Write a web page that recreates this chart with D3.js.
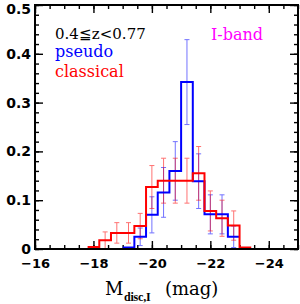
<!DOCTYPE html>
<html><head><meta charset="utf-8">
<script src="https://cdn.jsdelivr.net/npm/d3@7"></script>
<style>body{margin:0;background:#fff}</style></head>
<body><svg id="c" width="300" height="304"></svg>
<script>
const binWidth = 0.4;
const classicalBins = [-17.8,-18.2,-18.6,-19.0,-19.4,-19.8,-20.2,-20.6,-21.0,-21.4,-21.8,-22.2,-22.6,-23.0];
const classicalValues = [0.004,0.018,0.033,0.033,0.047,0.127,0.140,0.140,0.140,0.155,0.078,0.063,0.048,0.003];
const classicalErrors = [0,0.017,0.021,0.021,0.026,0.044,0.046,0.046,0.046,0.055,0.041,0.037,0.030,0];
const pseudoBins = [-19.0,-19.4,-19.8,-20.2,-20.6,-21.0,-21.4,-21.8,-22.2,-22.6];
const pseudoValues = [0.003,0.025,0.070,0.116,0.160,0.342,0.139,0.071,0.071,0.025];
const pseudoErrors = [0,0.018,0.037,0.051,0.060,0.087,0.056,0.040,0.040,0.022];
const xMajorTicks = [-16,-18,-20,-22,-24];
const yMajorTicks = [0,0.1,0.2,0.3,0.4,0.5];
const xMinorTicks = d3.range(-16,-25.01,-0.5);
const yMinorTicks = d3.range(0,0.5001,0.02);

const L=35,R=298,T=5,B=249;
const svg=d3.select("#c");
const x=d3.scaleLinear().domain([-16,-25]).range([L,R]);
const y=d3.scaleLinear().domain([0,0.5]).range([B,T]);

function axis(gen, tr, vals, size, labels, pad){
  const a=gen.tickValues(vals).tickSizeInner(size).tickSizeOuter(0).tickPadding(pad||3);
  if(!labels) a.tickFormat("");
  const g=svg.append("g").attr("transform",tr).call(a);
  g.select(".domain").remove();
  g.selectAll(".tick line").attr("stroke","#000").attr("stroke-width",1.4);
  return g;
}
// minor ticks
axis(d3.axisBottom(x),`translate(0,${B})`,xMinorTicks,-4,false);
axis(d3.axisTop(x),`translate(0,${T})`,xMinorTicks,-4,false);
axis(d3.axisLeft(y),`translate(${L},0)`,yMinorTicks,-4,false);
axis(d3.axisRight(y),`translate(${R},0)`,yMinorTicks,-4,false);
// major ticks
const gx=axis(d3.axisBottom(x),`translate(0,${B})`,xMajorTicks,-8,true,9.5);
gx.selectAll("text").attr("font-family","DejaVu Sans").attr("font-weight","bold").attr("font-size",13).attr("fill","#000");
axis(d3.axisTop(x),`translate(0,${T})`,xMajorTicks,-8,false);
const gy=axis(d3.axisLeft(y),`translate(${L},0)`,yMajorTicks,-8,true,4);
gy.selectAll("text").attr("font-family","DejaVu Sans").attr("font-weight","bold").attr("font-size",14).attr("fill","#000")
  .text(d=>d===0?"0":d3.format(".1f")(d));
gy.selectAll(".tick").filter(d=>d===0.5).select("text").attr("dy","0.6em");
axis(d3.axisRight(y),`translate(${R},0)`,yMajorTicks,-8,false);

function errs(bins,vals,errsArr,color){
  bins.forEach((b,i)=>{
    const e=errsArr[i]; if(!e) return;
    const cx=x(b-binWidth/2), y1=y(vals[i]+e), y0=y(Math.max(0,vals[i]-e));
    const g=svg.append("g").attr("stroke",color).attr("stroke-width",1).attr("opacity",0.55);
    g.append("line").attr("x1",cx).attr("x2",cx).attr("y1",y1).attr("y2",y0);
    g.append("line").attr("x1",cx-2.5).attr("x2",cx+2.5).attr("y1",y1).attr("y2",y1);
    g.append("line").attr("x1",cx-2.5).attr("x2",cx+2.5).attr("y1",y0).attr("y2",y0);
  });
}
errs(pseudoBins,pseudoValues,pseudoErrors,"#0000ff");
errs(classicalBins,classicalValues,classicalErrors,"#ff0000");

function hist(bins,vals,color){
  const pts=[];
  bins.forEach((b,i)=>{pts.push([b,vals[i]]);pts.push([b-binWidth,vals[i]]);});
  svg.append("path").attr("d",d3.line().x(d=>x(d[0])).y(d=>y(d[1]))(pts))
    .attr("fill","none").attr("stroke",color).attr("stroke-width",2);
}
hist(pseudoBins,pseudoValues,"#0000ff");
hist(classicalBins,classicalValues,"#ff0000");

svg.append("rect").attr("x",L).attr("y",T).attr("width",R-L).attr("height",B-T)
  .attr("fill","none").attr("stroke","#000").attr("stroke-width",2);

const tf="DejaVu Serif";
svg.append("text").attr("x",55).attr("y",39).attr("font-family",tf).attr("font-size",15).attr("fill","#000").text("0.4≦z<0.77");
svg.append("text").attr("x",55).attr("y",57).attr("font-family",tf).attr("font-size",16).attr("fill","#0000ff").text("pseudo");
svg.append("text").attr("x",55).attr("y",77).attr("font-family",tf).attr("font-size",16).attr("fill","#ff0000").text("classical");
svg.append("text").attr("x",211).attr("y",40).attr("font-family",tf).attr("font-size",16).attr("fill","#ff00ff").text("I-band");

svg.append("text").attr("x",105).attr("y",295).attr("font-family",tf).attr("font-size",18).attr("fill","#000").text("M");
svg.append("text").attr("x",124).attr("y",301).attr("font-family","Liberation Serif").attr("font-weight","bold")
  .attr("font-size",12).attr("letter-spacing",-0.2).attr("fill","#000").text("disc,I");
svg.append("text").attr("x",165).attr("y",295).attr("font-family",tf).attr("font-size",18).attr("fill","#000").text("(mag)");
</script></body></html>
